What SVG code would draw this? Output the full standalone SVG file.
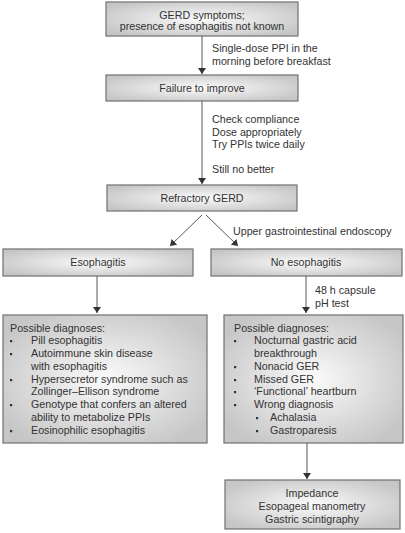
<svg xmlns="http://www.w3.org/2000/svg" width="405" height="533" viewBox="0 0 405 533">
<defs>
<radialGradient id="g" cx="0.5" cy="0.5" r="0.6">
<stop offset="0" stop-color="#fbfbfb"/>
<stop offset="1" stop-color="#c6c6c6"/>
</radialGradient>
<marker id="a" viewBox="0 0 6 8" refX="6" refY="4" markerWidth="6" markerHeight="8" markerUnits="userSpaceOnUse" orient="auto">
<path d="M0,0 L6,4 L0,8 z" fill="#333"/>
</marker>
</defs>
<style>
.box{fill:url(#g);stroke:#707070;stroke-width:1.2}
text{font-family:"Liberation Sans",Arial,sans-serif;font-size:10.7px;fill:#333}
.c{text-anchor:middle}
.ln{stroke:#444;stroke-width:0.9;fill:none;marker-end:url(#a)}
.b{fill:#333}
</style>
<rect width="405" height="533" fill="#fff"/>
<g id="connectors">
<line class="ln" x1="202" y1="36" x2="202" y2="74"/>
<line class="ln" x1="202" y1="101" x2="202" y2="184"/>
<line class="ln" x1="202" y1="215" x2="170" y2="246"/>
<line class="ln" x1="206" y1="215" x2="238" y2="246"/>
<line class="ln" x1="97" y1="276" x2="97" y2="313"/>
<line class="ln" x1="306" y1="276" x2="306" y2="313"/>
<line class="ln" x1="307" y1="443" x2="307" y2="479"/>
<text x="212" y="52">Single-dose PPI in the</text>
<text x="212" y="65">morning before breakfast</text>
<text x="212" y="123">Check compliance</text>
<text x="212" y="136">Dose appropriately</text>
<text x="212" y="148">Try PPIs twice daily</text>
<text x="212" y="173">Still no better</text>
<text x="233" y="235">Upper gastrointestinal endoscopy</text>
<text x="315" y="294">48 h capsule</text>
<text x="315" y="307">pH test</text>
</g>
<g id="n1">
<rect class="box" x="106" y="2" width="192" height="34"/>
<text class="c" x="202" y="19">GERD symptoms;</text>
<text class="c" x="202" y="30">presence of esophagitis not known</text>
</g>
<g id="n2">
<rect class="box" x="106" y="75" width="192" height="26"/>
<text class="c" x="202" y="92">Failure to improve</text>
</g>
<g id="n3">
<rect class="box" x="107" y="185" width="190" height="26"/>
<text class="c" x="202" y="202">Refractory GERD</text>
</g>
<g id="n4">
<rect class="box" x="3" y="249" width="190" height="27"/>
<text class="c" x="98" y="266">Esophagitis</text>
</g>
<g id="n5">
<rect class="box" x="211" y="249" width="191" height="27"/>
<text class="c" x="306" y="266">No esophagitis</text>
</g>
<g id="n6">
<rect class="box" x="3" y="315" width="204" height="128"/>
<text x="10" y="332">Possible diagnoses:</text>
<rect class="b" x="10" y="340" width="2.2" height="2.2"/>
<text x="31" y="344">Pill esophagitis</text>
<rect class="b" x="10" y="353" width="2.2" height="2.2"/>
<text x="31" y="357">Autoimmune skin disease</text>
<text x="31" y="370">with esophagitis</text>
<rect class="b" x="10" y="379" width="2.2" height="2.2"/>
<text x="31" y="383">Hypersecretor syndrome such as</text>
<text x="31" y="395">Zollinger–Ellison syndrome</text>
<rect class="b" x="10" y="404" width="2.2" height="2.2"/>
<text x="31" y="408">Genotype that confers an altered</text>
<text x="31" y="421">ability to metabolize PPIs</text>
<rect class="b" x="10" y="430" width="2.2" height="2.2"/>
<text x="31" y="434">Eosinophilic esophagitis</text>
</g>
<g id="n7">
<rect class="box" x="224" y="315" width="179" height="128"/>
<text x="234" y="332">Possible diagnoses:</text>
<rect class="b" x="234" y="340" width="2.2" height="2.2"/>
<text x="254" y="344">Nocturnal gastric acid</text>
<text x="254" y="357">breakthrough</text>
<rect class="b" x="234" y="366" width="2.2" height="2.2"/>
<text x="254" y="370">Nonacid GER</text>
<rect class="b" x="234" y="379" width="2.2" height="2.2"/>
<text x="254" y="383">Missed GER</text>
<rect class="b" x="234" y="391" width="2.2" height="2.2"/>
<text x="254" y="395">‘Functional’ heartburn</text>
<rect class="b" x="234" y="404" width="2.2" height="2.2"/>
<text x="254" y="408">Wrong diagnosis</text>
<rect class="b" x="256" y="417" width="2.2" height="2.2"/>
<text x="270" y="421">Achalasia</text>
<rect class="b" x="256" y="430" width="2.2" height="2.2"/>
<text x="270" y="434">Gastroparesis</text>
</g>
<g id="n8">
<rect class="box" x="225" y="480" width="175" height="49"/>
<text class="c" x="312" y="497">Impedance</text>
<text class="c" x="312" y="510">Esopageal manometry</text>
<text class="c" x="312" y="523">Gastric scintigraphy</text>
</g>
</svg>
